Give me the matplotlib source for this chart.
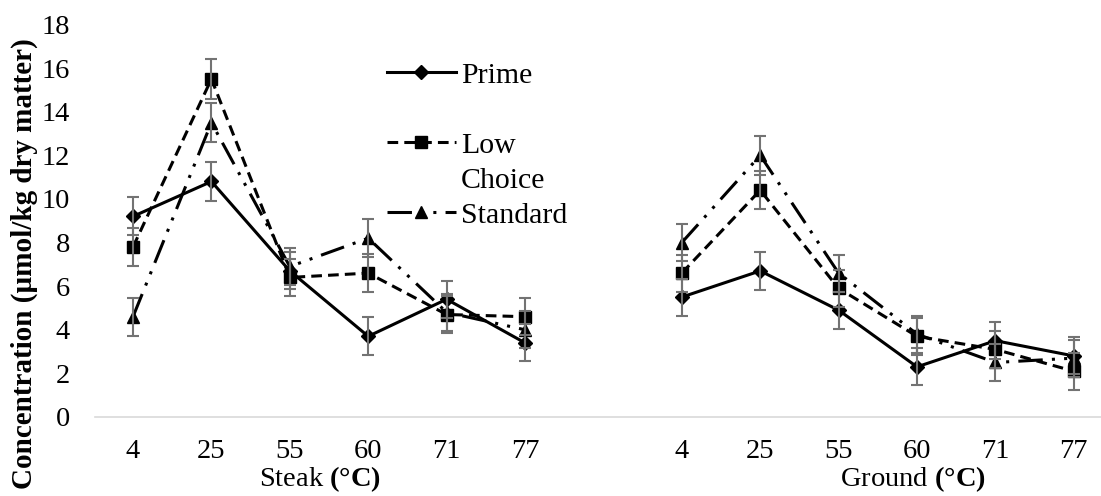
import numpy as np
import matplotlib
matplotlib.use("Agg")
import matplotlib.pyplot as plt
from matplotlib.lines import Line2D

plt.rcParams['font.family'] = ['Liberation Serif', 'DejaVu Serif']
plt.rcParams['mathtext.fontset'] = 'custom'
plt.rcParams['mathtext.rm'] = 'Liberation Serif'
plt.rcParams['mathtext.bf'] = 'Liberation Serif:bold'

## Data (steak then ground, one blank slot between)
temps = ["4", "25", "55", "60", "71", "77"]

prime_steak = [9.2, 10.8, 6.7, 3.7, 5.4, 3.4]
low_steak = [7.8, 15.5, 6.4, 6.6, 4.7, 4.6]
std_steak = [4.6, 13.5, 6.9, 8.2, 4.8, 4.0]

prime_ground = [5.5, 6.7, 4.9, 2.3, 3.5, 2.8]
low_ground = [6.6, 10.4, 5.9, 3.7, 3.1, 2.1]
std_ground = [8.0, 12.0, 6.6, 3.8, 2.5, 2.7]

err_steak = [0.87, 0.9, 0.85, 0.87, 0.85, 0.85]
err_ground = [0.85, 0.88, 0.85, 0.85, 0.85, 0.85]

x_steak = np.arange(6)
x_ground = np.arange(7, 13)

## Figur
fig = plt.figure(figsize=(11.01, 4.96), dpi=100)
ax = fig.add_axes([95/1101, 79/496, 1006/1101, 392.5/496])

styles = [
    ("Prime", prime_steak, prime_ground, "-", "D", 7.5),
    ("Low Choice", low_steak, low_ground, (0, (3.5, 2)), "s", 9),
    ("Standard", std_steak, std_ground, (0, (8, 3, 1, 3, 1, 3)), "^", 9),
]

handles = []
for name, ys, yg, ls, mk, ms in styles:
    for xx, yy, ee in [(x_steak, ys, err_steak), (x_ground, yg, err_ground)]:
        ax.errorbar(xx, yy, yerr=ee, fmt="none", ecolor="#737373",
                    elinewidth=1.5, capsize=4.5, capthick=1.5, zorder=3)
        ax.plot(xx, yy, color="black", linestyle=ls, linewidth=2.2,
                marker=mk, markersize=ms, zorder=2)
    handles.append(Line2D([], [], color="black", linestyle=ls, linewidth=2.2,
                          marker=mk, markersize=ms))

# tom rad mellom Prime og Low Choice, som i Excel-figuren
blank = Line2D([], [], linestyle="none")
leg = ax.legend([handles[0], blank, handles[1], blank, handles[2]],
                ["Prime", " ", "Low", "Choice", "Standard"],
                loc="upper left", bbox_to_anchor=(387/1101, 1 - 62/496),
                bbox_transform=fig.transFigure, frameon=False, fontsize=21.5,
                handlelength=2.3, handletextpad=0.17, labelspacing=0.27,
                borderpad=0, borderaxespad=0)

## Akser
ax.set_xlim(-0.485, 12.347)
ax.set_ylim(0, 18)
ax.set_yticks(np.arange(0, 19, 2))
ax.set_xticks(np.concatenate([x_steak, x_ground]))
ax.set_xticklabels(temps + temps)
ax.tick_params(axis="both", length=0, labelsize=20.5)
ax.tick_params(axis="x", pad=16)
ax.tick_params(axis="y", pad=18)

for s in ["top", "right", "left"]:
    ax.spines[s].set_visible(False)
ax.spines["bottom"].set_color("#d9d9d9")
ax.spines["bottom"].set_linewidth(1.2)

ax.set_ylabel("Concentration (µmol/kg dry matter)", fontsize=21, fontweight="bold")
ax.yaxis.set_label_coords(-0.057, 0.39)

ax.text(2.39, -0.158, r"Steak $\mathbf{(°C)}$", transform=ax.get_xaxis_transform(),
        ha="center", va="center", fontsize=20.5)
ax.text(9.95, -0.158, r"Ground $\mathbf{(°C)}$", transform=ax.get_xaxis_transform(),
        ha="center", va="center", fontsize=20.5)

fig.savefig("out.png", dpi=100)
